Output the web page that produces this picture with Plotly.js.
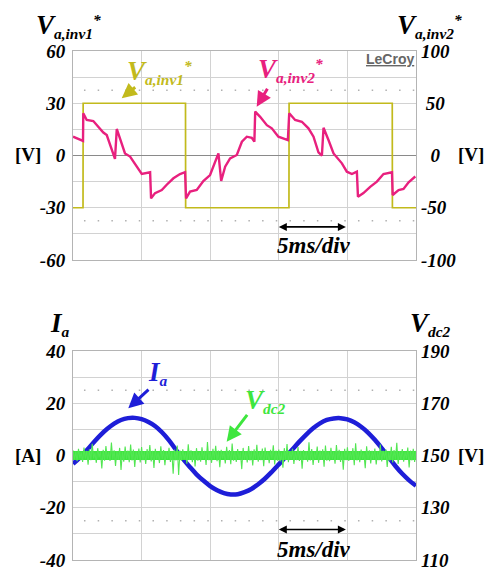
<!DOCTYPE html>
<html>
<head>
<meta charset="utf-8">
<script src="https://cdn.plot.ly/plotly-3.0.1.min.js"></script>
<style>html,body{margin:0;padding:0;background:#fff;}#chart{width:489px;height:570px;}</style>
</head>
<body>
<div id="chart"></div>
<script>
// ---------- data (time in ms) ----------
var invT = [0, 0.73, 0.74, 8.20, 8.21, 15.74, 15.75, 23.27, 23.28, 25];
var inv1V = [-30, -30, 30, 30, -30, -30, 30, 30, -30, -30];   // Va,inv1* [V], left axis

var inv2T = [0, 0.63, 0.73, 0.75, 1.0, 1.48, 1.85, 2.21, 2.46, 2.82, 3.06, 3.19, 3.43, 3.79, 4.16, 4.65, 5.01, 5.62, 5.69, 5.98,
             6.47, 6.83, 7.32, 7.80, 8.17, 8.24, 8.53, 9.02, 9.50, 9.99, 10.43, 10.60, 10.80, 11.09, 11.45, 11.94, 12.31, 12.67, 13.03, 13.22,
             13.28, 13.64, 14.13, 14.49, 14.97, 15.66, 15.76, 16.19, 16.68, 17.16, 17.53, 17.89, 18.14, 18.26, 18.62, 18.99, 19.60, 19.96, 20.33, 20.69,
             20.77, 21.17, 21.66, 22.15, 22.63, 23.25, 23.30, 23.73, 24.09, 24.46, 24.95];
var inv2V = [18, 14.8, 14, 40.4, 34, 33, 27.6, 22, 19.6, 6.9, -3.3, 25.4, 16.4, 2, -1, -10.7, -17.7, -16, -41, -36,
             -33, -28, -21.8, -17.7, -16, -41, -34.6, -33, -24.4, -18.7, -5, 2, -24.4, -10.7, -2.7, 0.5, 13.2, 18, 17, 13.2,
             42, 37, 29, 26, 18, 14.8, 40.4, 34, 32.3, 26, 18, 3, -0.2, 26.6, 14.8, 2, -7.5, -15.5, -17.7, -15.5,
             -39.4, -36, -30, -25, -17.7, -16, -37.8, -33, -32, -25.6, -20];   // Va,inv2* [V], right axis

var iaT = [0,0.5,1,1.5,2,2.5,3,3.5,4,4.5,5,5.5,6,6.5,7,7.5,8,8.5,9,9.5,10,10.5,11,11.5,12,12.5,13,13.5,14,14.5,15,15.5,16,16.5,17,17.5,18,18.5,19,19.5,20,20.5,21,21.5,22,22.5,23,23.5,24,24.5,25];
var iaV = [-3.2,-0.8,2.0,5.0,7.8,10.2,12.2,13.6,14.3,14.4,13.9,12.8,11.2,8.8,5.8,2.2,-1.2,-4.3,-7.2,-9.6,-11.7,-13.3,-14.4,-14.9,-14.8,-14.0,-12.8,-11.0,-8.8,-6.2,-3.4,-0.5,2.4,5.3,8.0,10.4,12.3,13.6,14.2,14.3,13.8,12.7,11.0,8.8,6.0,2.8,-0.6,-4.0,-7.0,-9.5,-11.6];

var vdcStep = 0.1;   // ms between Vdc2 samples
var vdcV = [
152.0,148.5,151.5,147.8,152.6,149.0,151.2,147.5,153.0,148.8,
151.8,146.5,152.4,148.2,154.5,148.9,151.0,147.2,152.8,149.3,
151.6,145.0,152.2,148.0,153.6,148.6,151.4,147.9,155.0,148.4,
152.0,146.0,151.7,148.3,152.9,144.5,151.3,147.6,153.4,148.7,
151.9,147.4,154.2,148.1,152.3,145.6,151.6,148.5,152.7,147.3,
153.2,148.2,151.5,146.8,152.5,148.9,154.0,147.7,151.8,145.2,
152.6,148.4,151.2,147.1,153.5,148.6,152.1,146.3,151.7,148.8,
152.9,147.5,151.4,143.0,152.3,148.1,153.8,142.5,151.9,147.9,
152.4,148.6,151.1,146.9,154.3,148.3,152.0,147.4,151.6,145.8,
152.8,148.0,151.3,147.6,153.1,148.7,151.8,146.4,155.2,148.2,
151.5,147.2,152.6,148.5,153.7,147.8,151.9,145.5,152.2,148.9,
151.4,147.0,153.3,148.4,152.1,146.7,154.6,148.0,151.7,147.5,
152.5,148.6,151.2,144.8,152.9,148.3,151.6,147.3,153.6,148.1,
151.8,146.2,152.4,148.7,154.1,147.6,151.3,148.2,152.7,145.9,
153.0,148.4,151.5,147.1,152.2,148.8,153.9,146.6,151.9,148.0,
152.3,147.7,151.1,145.3,152.8,148.5,154.4,147.4,151.6,148.6,
152.6,146.8,151.4,148.2,153.2,147.9,151.8,144.9,152.1,148.3,
151.7,147.6,155.1,148.1,152.5,146.4,151.2,148.7,153.4,147.2,
151.9,148.4,152.4,145.7,153.8,148.0,151.5,147.8,152.9,148.6,
151.3,146.9,154.0,148.3,152.2,147.5,151.7,144.6,152.6,148.2,
153.1,147.9,151.4,148.5,152.8,146.3,154.7,148.1,151.6,147.4,
152.3,148.7,151.0,145.1,153.5,148.4,152.0,147.0,151.8,148.6,
152.7,146.6,151.5,148.2,154.2,147.7,151.9,148.9,152.4,145.6,
151.2,148.0,153.3,147.3,152.1,148.5,154.9,146.8,151.7,148.3,
152.5,147.6,151.3,148.8,153.0,145.4,151.9,148.1,152.6,147.5,
151.8];
var vdcMeanT = [0, 25];
var vdcMeanV = [150, 150];

var topLeftTicks = [-60,-30,0,30,60];
var topLeftText  = ['-60','-30','0','30','60'];
var topRightTicks = [-100,-50,0,50,100];
var topRightText  = ['-100','-50','\u00a0\u00a00','\u00a050','100'];
var botLeftTicks = [-40,-20,0,20,40];
var botLeftText  = ['-40','-20','0','20','40'];
var botRightTicks = [110,130,150,170,190];
var botRightText  = ['110','130','150','170','190'];
var timeTicks = [0,5,10,15,20,25];

// ---------- build ----------
var vdcT = vdcV.map(function(v,i){return +(i*vdcStep).toFixed(3);});

var YEL = '#c2ba1c', PINK = '#e8207e', BLUE = '#1e1ed8', GREEN = '#3ee63e';
var serif = 'Liberation Serif, Times New Roman, serif';
var tickFont = {family: serif, size: 19, color: '#000', weight: 'bold', style: 'italic'};

var traces = [
  {x: invT, y: inv1V, xaxis:'x', yaxis:'y', mode:'lines', line:{color:YEL, width:1.7}, hoverinfo:'skip'},
  {x: inv2T, y: inv2V, xaxis:'x', yaxis:'y2', mode:'lines', line:{color:PINK, width:2.4}, hoverinfo:'skip'},
  {x: iaT, y: iaV, xaxis:'x2', yaxis:'y3', mode:'lines', line:{color:BLUE, width:4.5, shape:'spline'}, hoverinfo:'skip'},
  {x: vdcMeanT, y: vdcMeanV, xaxis:'x2', yaxis:'y4', mode:'lines', line:{color:GREEN, width:9}, hoverinfo:'skip'},
  {x: vdcT, y: vdcV, xaxis:'x2', yaxis:'y4', mode:'lines', line:{color:'#52e652', width:1.1}, hoverinfo:'skip'}
];

var H = 570, T = 51, B = 10, L = 73, R = 73;
var PH = H - T - B;
function py(p){ return (H - B - p) / PH; }      // pixel row -> paper y
function px(p){ return (p - L) / (489 - L - R); } // pixel col -> paper x

var grid = '#d2d2d2', border = '#b4b4b4';
function xa(anchor){
  return {domain:[0,1], anchor:anchor, range:[0,25], tickvals:timeTicks, showticklabels:false,
          showgrid:true, gridcolor:grid, gridwidth:1, zeroline:false, showline:true, mirror:true,
          linecolor:border, linewidth:1, ticks:'', fixedrange:true};
}
function yl(dom, range, tv, tt, minorStep){
  return {domain:dom, range:range, tickvals:tv, ticktext:tt, tickfont:tickFont, showgrid:true, gridcolor:grid,
          minor:{tick0:0, dtick:minorStep, showgrid:true, gridcolor:grid, gridwidth:1, ticks:''},
          zeroline:true, zerolinecolor:'#8a8a8a', zerolinewidth:1.5, showline:true, mirror:true,
          linecolor:border, ticks:'', ticklabelstandoff:3, ticklabeloverflow:'allow', fixedrange:true};
}
function yr(over, range, tv, tt){
  return {overlaying:over, side:'right', range:range, tickvals:tv, ticktext:tt, tickfont:tickFont,
          showgrid:false, zeroline:false, showline:false, ticks:'', ticklabelstandoff:4,
          ticklabeloverflow:'allow', fixedrange:true};
}

var topDom = [py(260), 1], botDom = [0, py(351)];

function big(v){ return '<span style="font-size:27px">' + v + '</span>'; }
function lbl(text, x, y, color, size, anchor){
  return {text:text, xref:'paper', yref:'paper', x:px(x), y:py(y), xanchor:anchor || 'center', yanchor:'middle',
          showarrow:false, font:{family:serif, size:size, color:color, weight:'bold', style:'italic'}};
}
function arrow(hx, hy, tx, ty, color, w){
  return {text:'', xref:'paper', yref:'paper', x:px(hx), y:py(hy), ax:tx-hx, ay:ty-hy,
          showarrow:true, arrowhead:2, arrowsize:1, arrowwidth:w, arrowcolor:color};
}
var star = '<sup>*</sup>';
var tInv1 = big('V') + '<sub>a,inv1</sub>' + star;
var tInv2 = big('V') + '<sub>a,inv2</sub>' + star;
var tIa = big('I') + '<sub>a</sub>';
var tDc = big('V') + '<sub>dc2</sub>';

var annotations = [
  lbl(tInv1, 34, 26, '#000', 22, 'left'),
  lbl(tInv2, 395, 26, '#000', 22, 'left'),
  lbl(tIa, 48, 324, '#000', 22, 'left'),
  lbl(tDc, 408, 324, '#000', 22, 'left'),
  lbl(tInv1, 125, 72, YEL, 22, 'left'),
  lbl(tInv2, 256, 70, PINK, 22, 'left'),
  lbl(tIa, 146, 373, BLUE, 22, 'left'),
  lbl(tDc, 243, 401, GREEN, 22, 'left'),
  arrow(121.7, 98.3, 136.7, 86, YEL, 3),
  arrow(256.7, 106.7, 268.3, 87.3, PINK, 3),
  arrow(128.3, 408.3, 150, 388.3, BLUE, 3),
  arrow(226.7, 441.7, 248.3, 413.3, GREEN, 3),
  lbl('5ms/div', 313.5, 245, '#000', 23),
  lbl('5ms/div', 313.5, 549, '#000', 23),
  {text:'', xref:'x', yref:'y', axref:'x', ayref:'y', x:15, y:-41, ax:20, ay:-41, showarrow:true,
   arrowhead:2, arrowside:'end+start', arrowsize:1, arrowwidth:1.6, arrowcolor:'#000'},
  {text:'', xref:'x2', yref:'y3', axref:'x2', ayref:'y3', x:15, y:-28.3, ax:20, ay:-28.3, showarrow:true,
   arrowhead:2, arrowside:'end+start', arrowsize:1, arrowwidth:1.6, arrowcolor:'#000'},
  {text:'<u>LeCroy</u>', xref:'paper', yref:'paper', x:px(390), y:py(59), xanchor:'center', yanchor:'middle',
   showarrow:false, font:{family:'Liberation Sans, Arial, sans-serif', size:14, color:'#666', weight:'bold'}},
  {text:'[V]', xref:'paper', yref:'paper', x:px(28), y:py(155), xanchor:'center', yanchor:'middle', showarrow:false,
   font:{family:serif, size:19, color:'#000', weight:'bold'}},
  {text:'[V]', xref:'paper', yref:'paper', x:px(471), y:py(155), xanchor:'center', yanchor:'middle', showarrow:false,
   font:{family:serif, size:19, color:'#000', weight:'bold'}},
  {text:'[A]', xref:'paper', yref:'paper', x:px(28), y:py(455), xanchor:'center', yanchor:'middle', showarrow:false,
   font:{family:serif, size:19, color:'#000', weight:'bold'}},
  {text:'[V]', xref:'paper', yref:'paper', x:px(471), y:py(455), xanchor:'center', yanchor:'middle', showarrow:false,
   font:{family:serif, size:19, color:'#000', weight:'bold'}}
];

var dotLine = {color:'#b0b0b0', width:1.5, dash:'1.5px,12.2px'};
var shapes = [
  {type:'line', xref:'x', yref:'y', x0:0.8, x1:25, y0:37.5, y1:37.5, line:dotLine, layer:'below'},
  {type:'line', xref:'x', yref:'y', x0:0.8, x1:25, y0:-37.5, y1:-37.5, line:dotLine, layer:'below'},
  {type:'line', xref:'x2', yref:'y3', x0:0.8, x1:25, y0:25, y1:25, line:dotLine, layer:'below'},
  {type:'line', xref:'x2', yref:'y3', x0:0.8, x1:25, y0:-25, y1:-25, line:dotLine, layer:'below'}
];

var layout = {
  width:489, height:570, margin:{l:L, r:R, t:T, b:B, pad:0},
  paper_bgcolor:'#fff', plot_bgcolor:'#fff', showlegend:false,
  xaxis: xa('y'), xaxis2: xa('y3'),
  yaxis: yl(topDom, [-60,60], topLeftTicks, topLeftText, 15),
  yaxis2: yr('y', [-100,100], topRightTicks, topRightText),
  yaxis3: yl(botDom, [-40,40], botLeftTicks, botLeftText, 10),
  yaxis4: yr('y3', [110,190], botRightTicks, botRightText),
  annotations: annotations, shapes: shapes
};
layout.yaxis2.anchor = 'x';
layout.yaxis4.anchor = 'x2';

Plotly.newPlot('chart', traces, layout, {displayModeBar:false, staticPlot:true});
</script>
</body>
</html>
